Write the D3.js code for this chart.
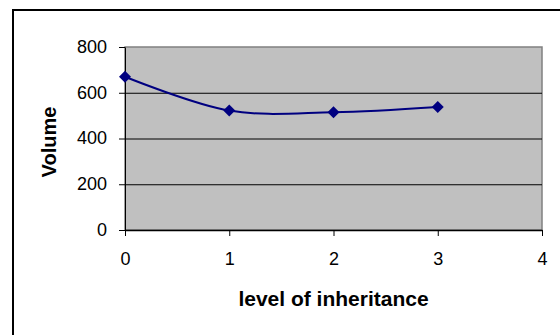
<!DOCTYPE html>
<html>
<head>
<meta charset="utf-8">
<script src="https://cdn.jsdelivr.net/npm/d3@7/dist/d3.min.js"></script>
<style>
  html, body { margin: 0; padding: 0; background: #fff; }
  svg { display: block; }
  text { font-family: "Liberation Sans", Arial, sans-serif; fill: #000; }
</style>
</head>
<body>
<div id="chart"></div>
<script>
// Volume by level of inheritance
const levels = [0, 1, 2, 3];
const volumes = [670, 522, 515, 538];
const xTicks = [0, 1, 2, 3, 4];
const yTicks = [0, 200, 400, 600, 800];

const W = 560, H = 335;
const plot = { left: 125, top: 47, right: 542, bottom: 230 };

const svg = d3.select("#chart").append("svg")
  .attr("width", W).attr("height", H);

// outer chart frame
svg.append("rect")
  .attr("x", 13).attr("y", 10)
  .attr("width", W).attr("height", H)
  .attr("fill", "#fff")
  .attr("stroke", "#000").attr("stroke-width", 2);

const x = d3.scaleLinear().domain([0, 4]).range([plot.left, plot.right]);
const y = d3.scaleLinear().domain([0, 800]).range([plot.bottom, plot.top]);

// plot area
svg.append("rect")
  .attr("x", plot.left).attr("y", plot.top)
  .attr("width", plot.right - plot.left).attr("height", plot.bottom - plot.top)
  .attr("fill", "#c0c0c0")
  .attr("stroke", "#808080").attr("stroke-width", 1.5);

// horizontal gridlines
svg.append("g")
  .selectAll("line")
  .data(yTicks.filter(v => v > 0 && v < 800))
  .join("line")
  .attr("x1", plot.left).attr("x2", plot.right)
  .attr("y1", d => y(d) + 0.5).attr("y2", d => y(d) + 0.5)
  .attr("stroke", "#000").attr("stroke-width", 1);

// y axis
const yAxis = svg.append("g")
  .attr("transform", `translate(${plot.left},0)`)
  .call(d3.axisLeft(y).tickValues(yTicks).tickFormat(d3.format("d"))
    .tickSize(6).tickPadding(12).tickSizeOuter(0));
yAxis.select(".domain").attr("stroke", "#000").attr("stroke-width", 1);
yAxis.selectAll(".tick line").attr("stroke", "#000");
yAxis.selectAll(".tick text")
  .attr("font-size", 18).attr("font-family", "Liberation Sans, Arial, sans-serif")
  .attr("fill", "#000").attr("dy", "0.3em");

// x axis
const xAxis = svg.append("g")
  .attr("transform", `translate(0,${plot.bottom})`)
  .call(d3.axisBottom(x).tickValues(xTicks).tickFormat(d3.format("d"))
    .tickSize(6).tickPadding(16).tickSizeOuter(0));
xAxis.select(".domain").attr("stroke", "#000").attr("stroke-width", 1.5);
xAxis.selectAll(".tick line").attr("stroke", "#000");
xAxis.selectAll(".tick text")
  .attr("font-size", 18).attr("font-family", "Liberation Sans, Arial, sans-serif")
  .attr("fill", "#000");

// smoothed series line
const line = d3.line()
  .x((d, i) => x(levels[i]))
  .y(d => y(d))
  .curve(d3.curveCardinal.tension(0));

svg.append("path")
  .datum(volumes)
  .attr("d", line)
  .attr("fill", "none")
  .attr("stroke", "#000080")
  .attr("stroke-width", 2);

// diamond markers
const diamond = d3.symbol().type(d3.symbolSquare).size(72);
svg.append("g")
  .selectAll("path")
  .data(volumes)
  .join("path")
  .attr("d", diamond)
  .attr("transform", (d, i) => `translate(${x(levels[i])},${y(d)}) rotate(45)`)
  .attr("fill", "#000080");

// axis titles
svg.append("text")
  .attr("x", (plot.left + plot.right) / 2)
  .attr("y", 306)
  .attr("text-anchor", "middle")
  .attr("font-size", 21).attr("font-weight", "bold")
  .text("level of inheritance");

svg.append("text")
  .attr("transform", "translate(56,142) rotate(-90)")
  .attr("text-anchor", "middle")
  .attr("font-size", 20).attr("font-weight", "bold")
  .text("Volume");
</script>
</body>
</html>
